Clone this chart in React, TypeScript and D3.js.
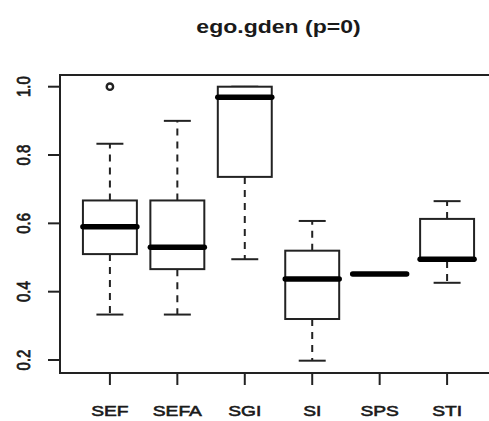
import { useEffect, useRef } from "react";
import * as d3 from "d3";

const categories = ["SEF", "SEFA", "SGI", "SI", "SPS", "STI"];
const lowerWhisker = [0.333, 0.333, 0.495, 0.198, 0.452, 0.426];
const q1 = [0.51, 0.466, 0.736, 0.32, 0.452, 0.49];
const medians = [0.59, 0.53, 0.969, 0.437, 0.452, 0.495];
const q3 = [0.667, 0.667, 1.0, 0.52, 0.452, 0.613];
const upperWhisker = [0.833, 0.9, 1.0, 0.607, 0.452, 0.665];
const outliers = [[1.0], [], [], [], [], []];
const yTicks = [0.2, 0.4, 0.6, 0.8, 1.0];
const title = "ego.gden (p=0)";

function App() {
  const ref = useRef<SVGSVGElement>(null);

  const width = 489;
  const height = 421;
  const margin = { top: 75, right: -8, bottom: 48, left: 60 };
  const stretch = 1.28;

  useEffect(() => {
    const svg = d3.select(ref.current);
    svg.selectAll("*").remove();

    const plotRight = width - margin.right;
    const plotBottom = height - margin.bottom;

    const x = d3.scaleLinear().domain([0.26, 6.74]).range([margin.left, plotRight]);
    const y = d3.scaleLinear().domain([0.2, 1.0]).range([360, 86.7]);
    const step = x(2) - x(1);
    const ink = "#222";
    const textInk = "#1a1a1a";

    // frame
    svg.append("rect")
      .attr("x", margin.left)
      .attr("y", margin.top)
      .attr("width", plotRight - margin.left)
      .attr("height", plotBottom - margin.top)
      .attr("fill", "none")
      .attr("stroke", ink)
      .attr("stroke-width", 2);

    // y axis
    const yAxis = svg.append("g");
    yTicks.forEach(t => {
      yAxis.append("line")
        .attr("x1", margin.left - 12).attr("x2", margin.left)
        .attr("y1", y(t)).attr("y2", y(t))
        .attr("stroke", ink).attr("stroke-width", 2);
      yAxis.append("text")
        .attr("transform", `translate(30,${y(t)}) scale(${stretch},1) rotate(-90)`)
        .attr("text-anchor", "middle")
        .attr("font-family", "Liberation Sans, Arial, sans-serif")
        .attr("font-size", 15)
        .attr("fill", textInk)
        .attr("stroke", textInk)
        .attr("stroke-width", 0.6)
        .text(d3.format(".1f")(t));
    });

    // x axis ticks + labels
    const xAxis = svg.append("g");
    categories.forEach((c, i) => {
      const cx = x(i + 1);
      xAxis.append("line")
        .attr("x1", cx).attr("x2", cx)
        .attr("y1", plotBottom).attr("y2", plotBottom + 12)
        .attr("stroke", ink).attr("stroke-width", 2);
      xAxis.append("text")
        .attr("transform", `translate(${cx},${plotBottom + 43}) scale(${stretch},1)`)
        .attr("text-anchor", "middle")
        .attr("font-family", "Liberation Sans, Arial, sans-serif")
        .attr("font-size", 15)
        .attr("fill", textInk)
        .attr("stroke", textInk)
        .attr("stroke-width", 0.6)
        .text(c);
    });

    // boxes
    const boxW = step * 0.8;
    const stapleW = step * 0.4;
    const groups = svg.selectAll(".box")
      .data(categories.map((c, i) => ({ c, i })))
      .join("g")
      .attr("class", "box");

    groups.each(function (d) {
      const g = d3.select(this);
      const cx = x(d.i + 1);
      // whiskers
      g.append("line")
        .attr("x1", cx).attr("x2", cx)
        .attr("y1", y(q3[d.i])).attr("y2", y(upperWhisker[d.i]))
        .attr("stroke", ink).attr("stroke-width", 2)
        .attr("stroke-dasharray", "7,6");
      g.append("line")
        .attr("x1", cx).attr("x2", cx)
        .attr("y1", y(q1[d.i])).attr("y2", y(lowerWhisker[d.i]))
        .attr("stroke", ink).attr("stroke-width", 2)
        .attr("stroke-dasharray", "7,6");
      // staples
      [upperWhisker[d.i], lowerWhisker[d.i]].forEach(v => {
        g.append("line")
          .attr("x1", cx - stapleW / 2).attr("x2", cx + stapleW / 2)
          .attr("y1", y(v)).attr("y2", y(v))
          .attr("stroke", ink).attr("stroke-width", 2);
      });
      // box
      g.append("rect")
        .attr("x", cx - boxW / 2)
        .attr("y", y(q3[d.i]))
        .attr("width", boxW)
        .attr("height", y(q1[d.i]) - y(q3[d.i]))
        .attr("fill", "white")
        .attr("stroke", ink)
        .attr("stroke-width", 2);
      // median
      g.append("line")
        .attr("x1", cx - boxW / 2).attr("x2", cx + boxW / 2)
        .attr("y1", y(medians[d.i])).attr("y2", y(medians[d.i]))
        .attr("stroke", "#000").attr("stroke-width", 5.5)
        .attr("stroke-linecap", "round");
      // outliers
      outliers[d.i].forEach(v => {
        g.append("circle")
          .attr("cx", cx).attr("cy", y(v))
          .attr("r", 3.2)
          .attr("fill", "none")
          .attr("stroke", ink)
          .attr("stroke-width", 2.4);
      });
    });

    // title
    svg.append("text")
      .attr("transform", `translate(${(margin.left + plotRight) / 2},33) scale(${stretch},1)`)
      .attr("text-anchor", "middle")
      .attr("font-family", "Liberation Sans, Arial, sans-serif")
      .attr("font-size", 18)
      .attr("font-weight", "bold")
      .attr("fill", textInk)
      .text(title);
  }, []);

  return (
    <div style={{ position: "fixed", left: 0, top: 0, width, height, background: "white" }}>
      <svg ref={ref} width={width} height={height} style={{ display: "block" }} />
    </div>
  );
}

export default App;
